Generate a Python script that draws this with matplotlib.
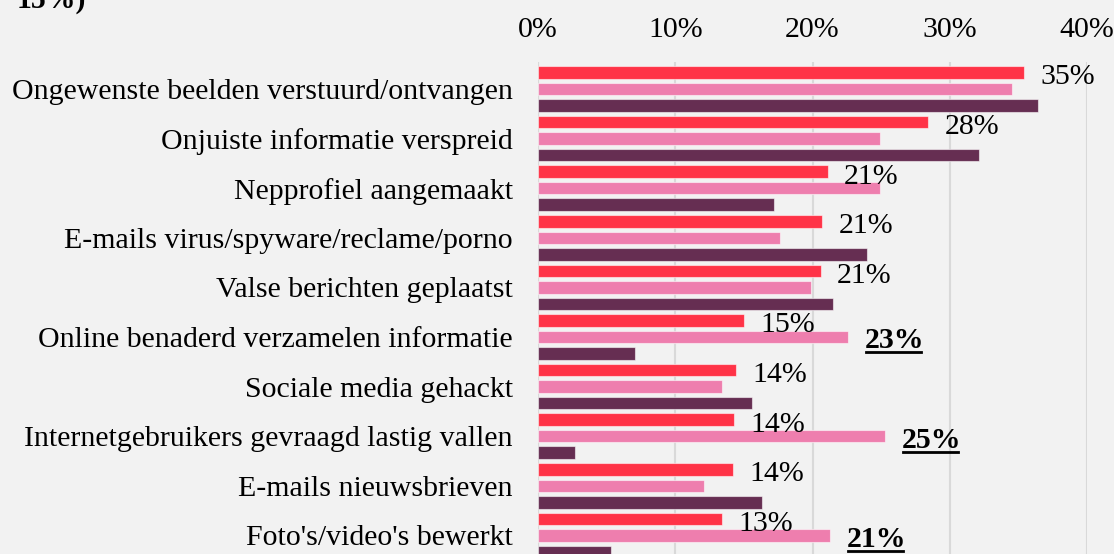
import matplotlib
matplotlib.use("Agg")
import matplotlib.pyplot as plt
import numpy as np
from matplotlib.lines import Line2D

categories = [
    "Ongewenste beelden verstuurd/ontvangen",
    "Onjuiste informatie verspreid",
    "Nepprofiel aangemaakt",
    "E-mails virus/spyware/reclame/porno",
    "Valse berichten geplaatst",
    "Online benaderd verzamelen informatie",
    "Sociale media gehackt",
    "Internetgebruikers gevraagd lastig vallen",
    "E-mails nieuwsbrieven",
    "Foto's/video's bewerkt",
]
serie_rood = [35.4, 28.4, 21.1, 20.7, 20.6, 15.0, 14.4, 14.3, 14.2, 13.4]
serie_roze = [34.5, 24.9, 24.9, 17.6, 19.9, 22.6, 13.4, 25.3, 12.1, 21.3]
serie_paars = [36.4, 32.1, 17.2, 24.0, 21.5, 7.1, 15.6, 2.7, 16.3, 5.3]
highlight_roze = [5, 7, 9]
xticks = [0, 10, 20, 30, 40]
title_tail = "15%)"

FONT = "Liberation Serif"
FS = 21.5
BG = "#f2f2f2"
c_rood = "#ff3347"
c_roze = "#ee7eae"
c_paars = "#662e52"

fig = plt.figure(figsize=(11.14, 5.54), dpi=100, facecolor=BG)
ax = fig.add_axes([538 / 1114, 0.0, (1087 - 538) / 1114, 1 - 62 / 554])
ax.set_facecolor(BG)

y = np.arange(len(categories))
off = 0.333
h = 0.252
edge = (1, 1, 1, 0.55)
ax.barh(y - off, serie_rood, height=h, color=c_rood, edgecolor=edge, linewidth=0.8, zorder=3)
ax.barh(y, serie_roze, height=h, color=c_roze, edgecolor=edge, linewidth=0.8, zorder=3)
ax.barh(y + off, serie_paars, height=h, color=c_paars, edgecolor=edge, linewidth=0.8, zorder=3)

ax.set_xlim(0, 40)
ax.set_ylim((554 - 89) / 49.6, -(89 - 62) / 49.6)
ax.set_xticks(xticks)
ax.set_xticklabels([f"{t}%" for t in xticks], fontfamily=FONT, fontsize=FS)
ax.xaxis.tick_top()
ax.tick_params(axis="x", length=0, pad=14)
ax.set_yticks(y)
ax.set_yticklabels(categories, fontfamily=FONT, fontsize=FS)
ax.tick_params(axis="y", length=0, pad=18)
for s in ax.spines.values():
    s.set_visible(False)
ax.grid(axis="x", color="#d9d9d9", linewidth=1.5, zorder=0)
ax.axvline(0, color="#d9d9d9", linewidth=1.5, zorder=1)

gap = 1.2
for i, v in enumerate(serie_rood):
    ax.text(v + gap, y[i] - off + 0.1, f"{round(v)}%", fontfamily=FONT, fontsize=FS,
            va="center", ha="left", zorder=4)

hl_texts = []
for i in highlight_roze:
    v = serie_roze[i]
    t = ax.text(v + gap, y[i] + 0.08, f"{round(v)}%", fontfamily=FONT, fontsize=FS,
                fontweight="bold", va="center", ha="left", zorder=4)
    hl_texts.append(t)

fig.text(17 / 1114, 1 - 8 / 554, title_tail, fontfamily=FONT, fontsize=FS,
         fontweight="bold", va="baseline", ha="left")

fig.canvas.draw()
r = fig.canvas.get_renderer()
inv = fig.transFigure.inverted()
for t in hl_texts:
    bb = t.get_window_extent(r)
    x0, y0 = inv.transform((bb.x0 + 1, bb.y0 + 2))
    x1, _ = inv.transform((bb.x1 - 3, bb.y0 + 2))
    fig.add_artist(Line2D([x0, x1], [y0, y0], color="black", linewidth=2.0,
                          transform=fig.transFigure))

fig.savefig("out.png", dpi=100, facecolor=BG)
